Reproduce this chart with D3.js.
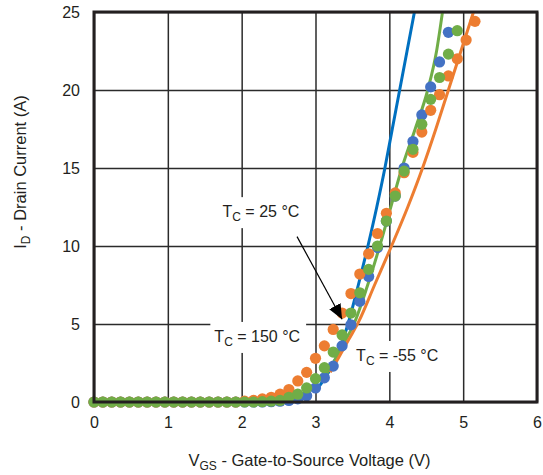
<!DOCTYPE html>
<html>
<head>
<meta charset="utf-8">
<script src="https://cdn.jsdelivr.net/npm/d3@7"></script>
<style>
  body { margin: 0; background: #fff; }
  svg text { font-family: "Liberation Sans", Arial, sans-serif; fill: #231f20; }
</style>
</head>
<body>
<div id="chart"></div>
<script>
// measured points, Vgs step 0.12 V
const vgsBlue = [0,0.12,0.24,0.36,0.48,0.6,0.72,0.84,0.96,1.08,1.2,1.32,1.44,1.56,1.68,1.8,1.92,2.04,2.16,2.28,2.4,2.52,2.64,2.76,2.88,3.0,3.12,3.24,3.36,3.48,3.6,3.72,3.84,3.96,4.08,4.2,4.32,4.44,4.56,4.68,4.8];
const idBlue  = [0,0,0,0,0,0,0,0,0,0,0,0,0,0,0,0,0,0,0,0,0.02,0.05,0.1,0.2,0.4,0.9,1.55,2.3,3.6,4.95,6.45,8.05,9.9,11.6,13.2,15.0,16.7,18.4,20.2,21.8,23.7];

const vgsOrange = [0,0.12,0.24,0.36,0.48,0.6,0.72,0.84,0.96,1.08,1.2,1.32,1.44,1.56,1.68,1.8,1.92,2.04,2.16,2.28,2.4,2.52,2.64,2.76,2.88,3.0,3.12,3.24,3.36,3.48,3.6,3.72,3.84,3.96,4.08,4.2,4.32,4.44,4.56,4.68,4.8,4.92,5.04,5.16];
const idOrange  = [0,0,0,0,0,0,0,0,0,0,0,0,0,0,0,0,0,0.05,0.1,0.2,0.3,0.5,0.8,1.35,1.9,2.8,3.6,4.65,5.7,6.95,8.2,9.5,10.8,12.1,13.4,14.7,16.0,17.3,18.7,19.7,20.9,22.0,23.2,24.4];

const vgsGreen = [0,0.12,0.24,0.36,0.48,0.6,0.72,0.84,0.96,1.08,1.2,1.32,1.44,1.56,1.68,1.8,1.92,2.04,2.16,2.28,2.4,2.52,2.64,2.76,2.88,3.0,3.12,3.24,3.36,3.48,3.6,3.72,3.84,3.96,4.08,4.2,4.32,4.44,4.56,4.68,4.8,4.92];
const idGreen  = [0,0,0,0,0,0,0,0,0,0,0,0,0,0,0,0,0,0,0,0.02,0.05,0.1,0.3,0.5,0.9,1.5,2.2,3.2,4.3,5.7,7.0,8.5,10.0,11.6,13.2,14.8,16.2,17.8,19.4,20.8,22.3,23.8];

// fitted curves
const fitBlueV = [3.05,3.2,3.32,3.44,3.58,3.71,3.83,3.94,4.04,4.14,4.24,4.34];
const fitBlueI = [1.0,2.1,3.3,5.0,7.5,10,12.5,15,17.5,20,22.5,25];
const fitGreenV = [3.1,3.25,3.4,3.52,3.7,3.87,4.02,4.17,4.35,4.52,4.64,4.72];
const fitGreenI = [1.4,2.6,3.9,5.0,7.4,10,12.5,15,17.5,20,22.5,25];
const fitOrangeV = [3.2,3.32,3.45,3.59,3.8,4.03,4.25,4.45,4.63,4.8,4.97,5.14];
const fitOrangeI = [1.9,2.9,4.0,5.2,7.5,10,12.5,15,17.5,20,22.5,25];

const xTicks = [0,1,2,3,4,5,6];
const yTicks = [0,5,10,15,20,25];

const labels = [
  {t: " = 25 °C",  x: 1.74, y: 11.85},
  {t: " = 150 °C", x: 1.63, y: 3.85},
  {t: " = -55 °C", x: 3.55, y: 2.63}
];
const arrowFrom = [2.75, 10.6];
const arrowTo = [3.36, 5.3];

const W = 543, H = 475;
const margin = {top: 12, right: 6, bottom: 73, left: 94};
const width = W - margin.left - margin.right;
const height = H - margin.top - margin.bottom;

const svg = d3.select("#chart").append("svg")
    .attr("width", W)
    .attr("height", H);

const g = svg.append("g")
    .attr("transform", "translate(" + margin.left + "," + margin.top + ")");

const x = d3.scaleLinear().domain([0, 6]).range([0, width]);
const y = d3.scaleLinear().domain([0, 25]).range([height, 0]);

// grid
g.append("g")
    .attr("transform", "translate(0," + height + ")")
    .call(d3.axisBottom(x).tickValues(xTicks).tickSize(-height).tickFormat(""))
    .call(a => a.select(".domain").remove())
    .selectAll("line").attr("stroke", "#2b2b2b").attr("stroke-width", 1.5);
g.append("g")
    .call(d3.axisLeft(y).tickValues(yTicks).tickSize(-width).tickFormat(""))
    .call(a => a.select(".domain").remove())
    .selectAll("line").attr("stroke", "#2b2b2b").attr("stroke-width", 1.5);

// tick labels
g.append("g")
    .attr("transform", "translate(0," + height + ")")
    .call(d3.axisBottom(x).tickValues(xTicks).tickSize(0).tickPadding(15).tickFormat(d3.format("d")))
    .call(a => a.select(".domain").remove())
    .selectAll("text").style("font-size", "16px").attr("fill", "#231f20");
g.append("g")
    .call(d3.axisLeft(y).tickValues(yTicks).tickSize(0).tickPadding(14).tickFormat(d3.format("d")))
    .call(a => a.select(".domain").remove())
    .selectAll("text").style("font-size", "16px").attr("fill", "#231f20");

g.append("clipPath").attr("id", "clip")
  .append("rect").attr("width", width).attr("height", height);

// curves
const line = d3.line().x(d => x(d[0])).y(d => y(d[1])).curve(d3.curveMonotoneX);
const fits = [
  [fitBlueV, fitBlueI, "#0070c0"],
  [fitGreenV, fitGreenI, "#70ad47"],
  [fitOrangeV, fitOrangeI, "#ed7d31"]
];
fits.forEach(f => {
  g.append("path")
    .datum(d3.zip(f[0], f[1]))
    .attr("clip-path", "url(#clip)")
    .attr("fill", "none")
    .attr("stroke", f[2])
    .attr("stroke-width", 3)
    .attr("d", line);
});

// dots
const series = [
  [vgsBlue, idBlue, "#4472c4"],
  [vgsOrange, idOrange, "#ed7d31"],
  [vgsGreen, idGreen, "#70ad47"]
];
series.forEach(s => {
  g.append("g").selectAll("circle")
    .data(d3.zip(s[0], s[1]))
    .enter().append("circle")
    .attr("cx", d => x(d[0]))
    .attr("cy", d => y(d[1]))
    .attr("r", 5.6)
    .attr("fill", s[2]);
});

// frame
g.append("rect")
    .attr("width", width).attr("height", height)
    .attr("fill", "none").attr("stroke", "#231f20").attr("stroke-width", 3);

// annotations
svg.append("defs").append("marker")
    .attr("id", "head")
    .attr("markerUnits", "userSpaceOnUse")
    .attr("viewBox", "0 0 14 12")
    .attr("refX", 14).attr("refY", 6)
    .attr("markerWidth", 15).attr("markerHeight", 13)
    .attr("orient", "auto")
  .append("path").attr("d", "M0,0L14,6L0,12Z").attr("fill", "#000");

labels.forEach(l => {
  const lg = g.append("g");
  const txt = lg.append("text")
    .attr("x", x(l.x)).attr("y", y(l.y))
    .style("font-size", "16px");
  txt.append("tspan").text("T");
  txt.append("tspan").text("C").style("font-size", "12px").attr("dy", 4);
  txt.append("tspan").text(l.t).attr("dy", -4);
  const bb = txt.node().getBBox();
  lg.insert("rect", "text")
    .attr("x", bb.x - 4).attr("y", bb.y - 6)
    .attr("width", bb.width + 10).attr("height", bb.height + 10)
    .attr("fill", "#fff");
});

g.append("line")
    .attr("x1", x(arrowFrom[0])).attr("y1", y(arrowFrom[1]))
    .attr("x2", x(arrowTo[0])).attr("y2", y(arrowTo[1]))
    .attr("stroke", "#000").attr("stroke-width", 1.2)
    .attr("marker-end", "url(#head)");

// axis titles
const xt = svg.append("text")
    .attr("x", margin.left + width / 2 - 6).attr("y", 466)
    .attr("text-anchor", "middle")
    .style("font-size", "16.5px");
xt.append("tspan").text("V");
xt.append("tspan").text("GS").style("font-size", "12px").attr("dy", 4);
xt.append("tspan").text(" - Gate-to-Source Voltage (V)").attr("dy", -4);

const yt = svg.append("text")
    .attr("transform", "translate(26,172) rotate(-90)")
    .attr("text-anchor", "middle")
    .style("font-size", "16.5px");
yt.append("tspan").text("I");
yt.append("tspan").text("D").style("font-size", "12px").attr("dy", 4);
yt.append("tspan").text(" - Drain Current (A)").attr("dy", -4);
</script>
</body>
</html>
